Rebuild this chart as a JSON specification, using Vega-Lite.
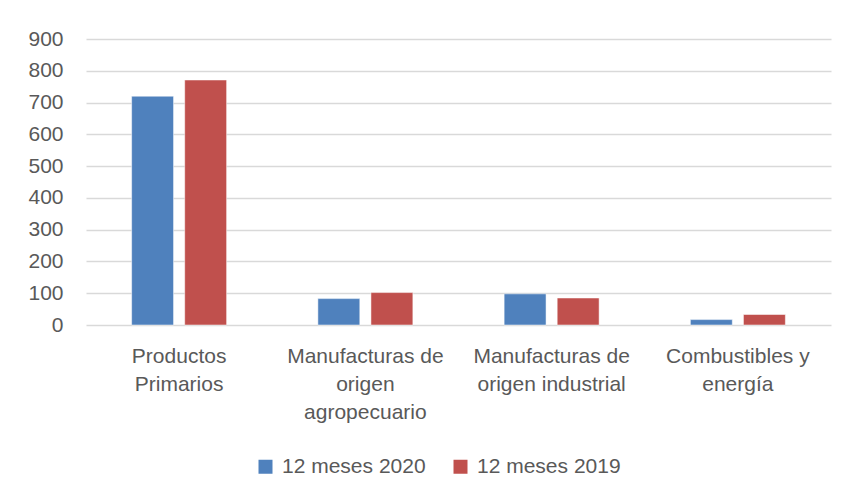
{
  "$schema": "https://vega.github.io/schema/vega-lite/v6.json",
  "width": 745,
  "height": 286,
  "autosize": {"type": "pad"},
  "padding": {"left": 27, "top": 28, "right": 15, "bottom": 10},
  "background": "white",
  "data": {
    "values": [
      {"categoria": "Productos Primarios", "serie": "12 meses 2020", "valor": 720},
      {"categoria": "Productos Primarios", "serie": "12 meses 2019", "valor": 771},
      {"categoria": "Manufacturas de origen agropecuario", "serie": "12 meses 2020", "valor": 83},
      {"categoria": "Manufacturas de origen agropecuario", "serie": "12 meses 2019", "valor": 102},
      {"categoria": "Manufacturas de origen industrial", "serie": "12 meses 2020", "valor": 98},
      {"categoria": "Manufacturas de origen industrial", "serie": "12 meses 2019", "valor": 85},
      {"categoria": "Combustibles y energía", "serie": "12 meses 2020", "valor": 17},
      {"categoria": "Combustibles y energía", "serie": "12 meses 2019", "valor": 33}
    ]
  },
  "mark": {"type": "bar", "stroke": "white", "strokeWidth": 0.5},
  "encoding": {
    "x": {
      "field": "categoria",
      "type": "nominal",
      "sort": null,
      "scale": {"paddingInner": 0, "paddingOuter": 0},
      "axis": {
        "title": null,
        "labelAngle": 0,
        "domain": false,
        "ticks": false,
        "labelFontSize": 21,
        "labelColor": "#595959",
        "labelFont": "Liberation Sans",
        "labelPadding": 31,
        "labelLineHeight": 28,
        "labelBaseline": "middle",
        "labelExpr": "datum.value == 'Productos Primarios' ? ['Productos', 'Primarios'] : datum.value == 'Manufacturas de origen agropecuario' ? ['Manufacturas de', 'origen', 'agropecuario'] : datum.value == 'Manufacturas de origen industrial' ? ['Manufacturas de', 'origen industrial'] : ['Combustibles y', 'energía']"
      }
    },
    "xOffset": {
      "field": "serie",
      "type": "nominal",
      "sort": ["12 meses 2020", "12 meses 2019"],
      "scale": {"paddingInner": 0.21, "paddingOuter": 0.86}
    },
    "y": {
      "field": "valor",
      "type": "quantitative",
      "scale": {"domain": [0, 900]},
      "axis": {
        "title": null,
        "values": [0, 100, 200, 300, 400, 500, 600, 700, 800, 900],
        "domain": false,
        "ticks": false,
        "labelFontSize": 21,
        "labelColor": "#595959",
        "labelFont": "Liberation Sans",
        "labelPadding": 23,
        "gridColor": "#d9d9d9",
        "gridWidth": 1.5
      }
    },
    "color": {
      "field": "serie",
      "type": "nominal",
      "sort": ["12 meses 2020", "12 meses 2019"],
      "scale": {"domain": ["12 meses 2020", "12 meses 2019"], "range": ["#4f81bd", "#c0504d"]},
      "legend": {
        "title": null,
        "orient": "none",
        "legendX": 169,
        "legendY": 417,
        "direction": "horizontal",
        "symbolType": "square",
        "symbolSize": 196,
        "symbolStrokeWidth": 0,
        "labelFontSize": 21,
        "labelColor": "#595959",
        "labelFont": "Liberation Sans",
        "columnPadding": 24,
        "labelOffset": 6
      }
    }
  },
  "config": {"view": {"stroke": null}}
}
